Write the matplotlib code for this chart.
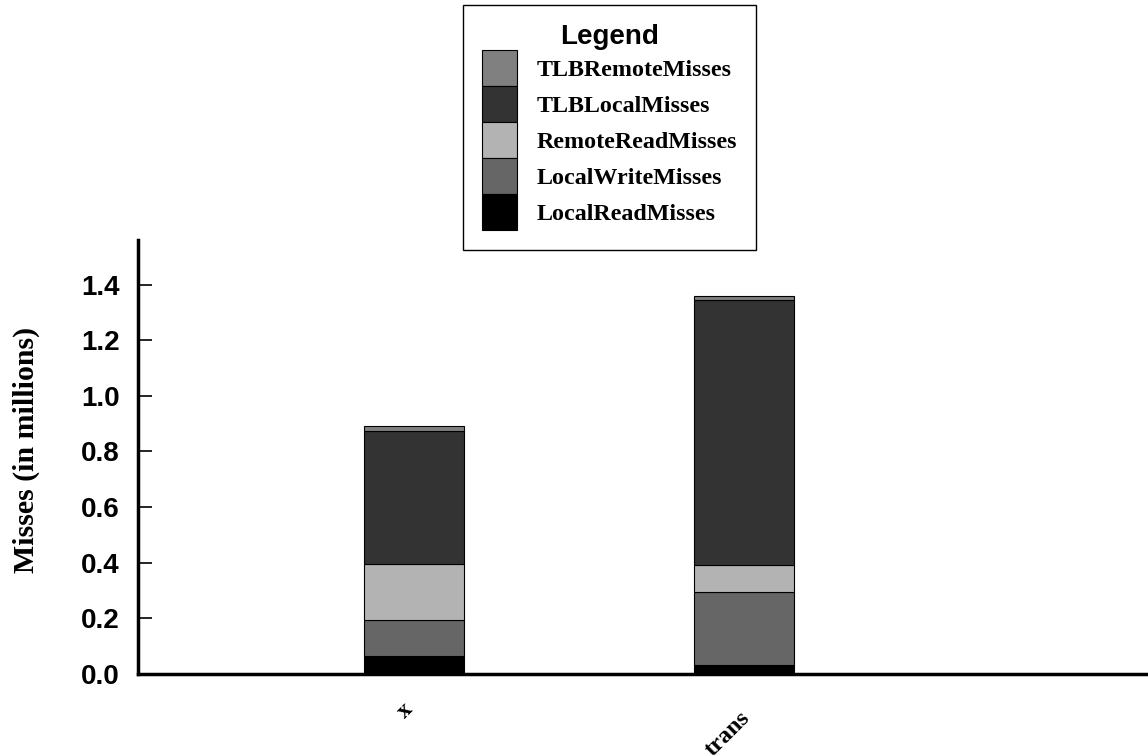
import numpy as np
import matplotlib
matplotlib.use('agg')
import matplotlib.pyplot as plt
import matplotlib.transforms as mtrans
from matplotlib.patches import Patch

# data (millions of misses)
benchmarks = ['x', 'trans']
series = ['LocalReadMisses', 'LocalWriteMisses', 'RemoteReadMisses',
          'TLBLocalMisses', 'TLBRemoteMisses']
local_read = [0.065, 0.032]
local_write = [0.129, 0.263]
remote_read = [0.202, 0.097]
tlb_local = [0.479, 0.951]
tlb_remote = [0.017, 0.015]
yticks = [0.0, 0.2, 0.4, 0.6, 0.8, 1.0, 1.2, 1.4]

colors = ['#000000', '#666666', '#b3b3b3', '#333333', '#808080']
serif = 'Liberation Serif'
sans = 'Liberation Sans'

fig = plt.figure(figsize=[11.48, 7.56], dpi=100)
ax = fig.add_axes([0.1202, 0.1085, 0.8798, 0.574])

pos = np.arange(len(benchmarks))
bottom = np.zeros(len(benchmarks))
for name, vals, col in zip(series, [local_read, local_write, remote_read, tlb_local, tlb_remote], colors):
    ax.bar(pos, vals, width=0.303, bottom=bottom, color=col,
           edgecolor='black', linewidth=0.8, label=name)
    bottom += np.array(vals)

ax.set_xlim(-0.836, 2.224)
ax.set_ylim(0, 1.56)
ax.set_yticks(yticks)
ax.set_yticklabels(['%.1f' % v for v in yticks], fontsize=20,
                   fontweight='bold', family=sans)
ax.tick_params(axis='y', direction='in', length=10, width=1.2, pad=13)
ax.set_xticks(pos)
ax.set_xticklabels(benchmarks, rotation=45, ha='right', va='top',
                   rotation_mode='anchor', fontsize=17.5, fontweight='bold',
                   family=serif)
ax.tick_params(axis='x', length=0, pad=20)
# small nudges of the slanted labels (pixels)
for lab, (dx, dy) in zip(ax.get_xticklabels(), [(-12, 3), (-5, -6)]):
    lab.set_transform(lab.get_transform() + mtrans.Affine2D().translate(dx, dy))

for s in ['top', 'right']:
    ax.spines[s].set_visible(False)
for s in ['left', 'bottom']:
    ax.spines[s].set_linewidth(2.5)

ax.set_ylabel('Misses (in millions)', fontsize=21.5, fontweight='bold',
              family=serif)
ax.yaxis.set_label_coords(-0.097, 0.516)

handles = [Patch(facecolor=c, edgecolor='black', linewidth=0.8) for c in colors][::-1]
labels = series[::-1]
leg = fig.legend(handles, labels, loc='upper left',
                 bbox_to_anchor=(463 / 1148, 1 - 5 / 756),
                 bbox_transform=fig.transFigure, borderaxespad=0,
                 fancybox=False, framealpha=1, edgecolor='black',
                 prop={'family': serif, 'weight': 'bold', 'size': 17.3},
                 labelspacing=0, handleheight=1.93, handlelength=1.46,
                 handletextpad=0.8, borderpad=0.8,
                 title='Legend',
                 title_fontproperties={'family': sans, 'weight': 'bold', 'size': 20})
leg.get_frame().set_linewidth(1.0)

plt.savefig('out.png', format='png', dpi=100)
plt.close(fig)
